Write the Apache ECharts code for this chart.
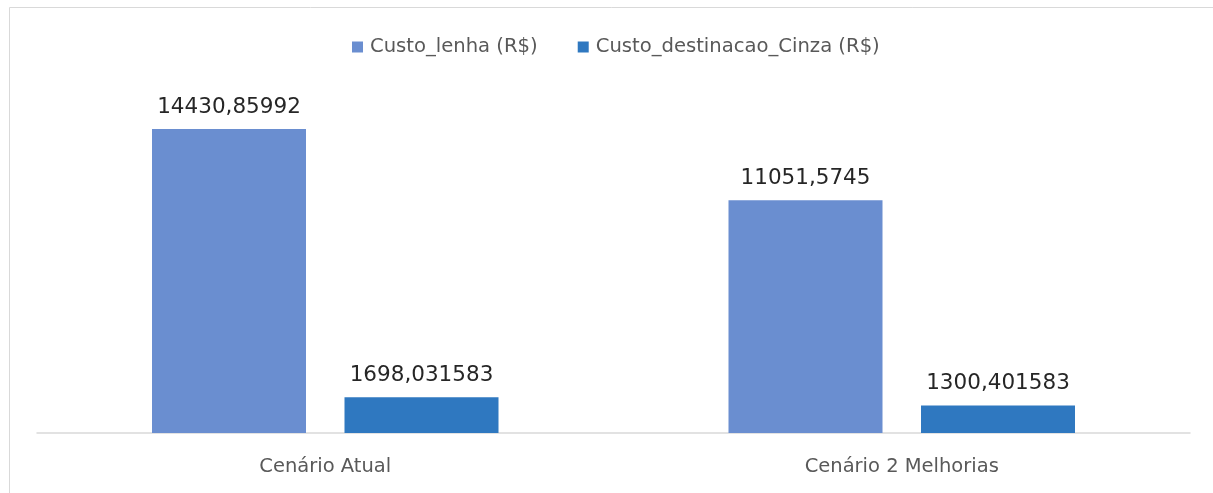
<!DOCTYPE html>
<html>
<head>
<meta charset="utf-8">
<script src="https://cdn.jsdelivr.net/npm/echarts@6/dist/echarts.min.js"></script>
<style>
  html, body { margin: 0; padding: 0; background: #ffffff; }
  #chart { width: 1213px; height: 493px; }
</style>
</head>
<body>
<div id="chart"></div>
<script>
// Cost comparison between scenarios (R$)
const categories = ['Cenário Atual', 'Cenário 2 Melhorias'];
const seriesNames = ['Custo_lenha (R$)', 'Custo_destinacao_Cinza (R$)'];
const custoLenha = [14430.85992, 11051.5745];
const custoCinza = [1698.031583, 1300.401583];

const FONT = '"DejaVu Sans", "Open Sans", sans-serif';
const fmtComma = p => String(p.value).replace('.', ',');

const chart = echarts.init(document.getElementById('chart'), null, { renderer: 'canvas' });

chart.setOption({
  backgroundColor: '#ffffff',
  animation: false,
  graphic: [{
    type: 'rect',
    left: 7, top: 5,
    shape: { width: 1400, height: 700 },
    style: { fill: 'none', stroke: '#d9d9d9', lineWidth: 1 },
    silent: true
  }],
  legend: {
    top: 32,
    left: 347,
    itemWidth: 11,
    itemHeight: 11,
    itemGap: 40,
    icon: 'rect',
    textStyle: { fontFamily: FONT, fontSize: 19.6, color: '#595959', padding: [0, 0, 0, 2] },
    data: seriesNames
  },
  grid: { left: 37, right: 23, top: 96, bottom: 60, containLabel: false },
  xAxis: {
    type: 'category',
    data: categories,
    axisLine: { show: true, lineStyle: { color: '#d9d9d9', width: 1.5 } },
    axisTick: { show: false },
    axisLabel: { fontFamily: FONT, fontSize: 19.5, color: '#595959', margin: 24 }
  },
  yAxis: {
    type: 'value',
    min: 0,
    max: 16000,
    show: false,
    splitLine: { show: false }
  },
  series: [
    {
      name: seriesNames[0],
      type: 'bar',
      data: custoLenha,
      barWidth: 154,
      barGap: '25%',
      itemStyle: { color: '#6A8ED0' },
      label: { show: true, position: 'top', distance: 11, formatter: fmtComma,
               fontFamily: FONT, fontSize: 21.5, color: '#262626' }
    },
    {
      name: seriesNames[1],
      type: 'bar',
      data: custoCinza,
      barWidth: 154,
      barGap: '25%',
      itemStyle: { color: '#2F78C0' },
      label: { show: true, position: 'top', distance: 11, formatter: fmtComma,
               fontFamily: FONT, fontSize: 21.5, color: '#262626' }
    }
  ]
});
</script>
</body>
</html>
